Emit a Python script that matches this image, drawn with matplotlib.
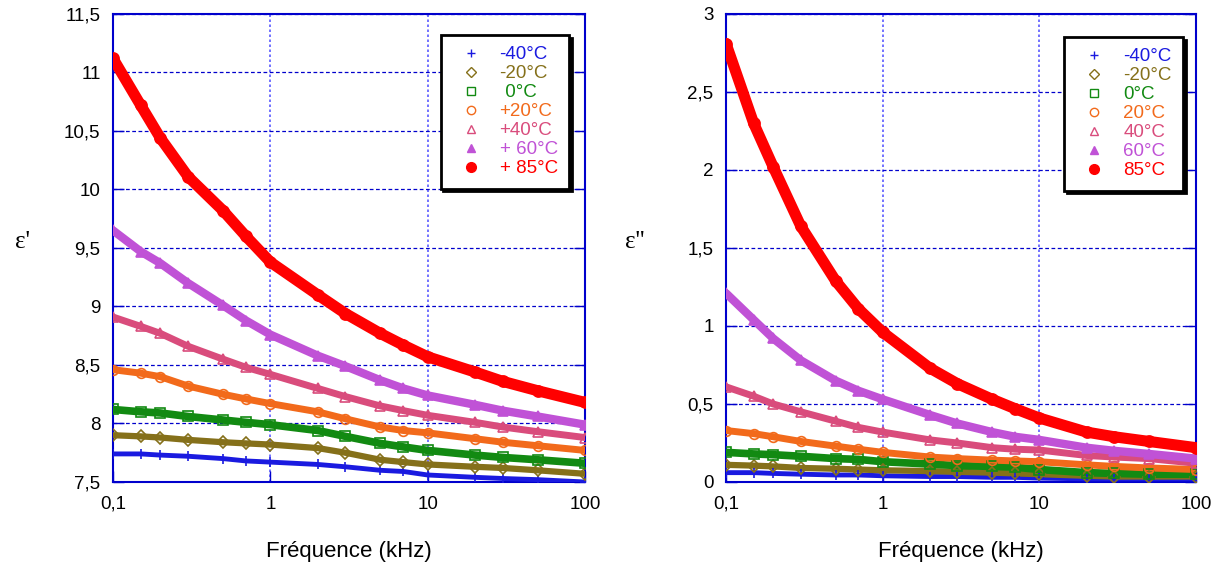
import numpy as np
import matplotlib
matplotlib.use('Agg')
import matplotlib.pyplot as plt
from matplotlib.lines import Line2D
from matplotlib.ticker import FuncFormatter, FixedLocator

plt.rcParams['font.family'] = ['Liberation Sans', 'DejaVu Sans']

# Frequencies (kHz) at which values were read
freq = [0.1, 0.15, 0.2, 0.3, 0.5, 0.7, 1, 2, 3, 5, 7, 10, 20, 30, 50, 100]

# epsilon' (left panel)
eps1_m40 = [7.74, 7.74, 7.73, 7.72, 7.70, 7.68, 7.67, 7.65, 7.63, 7.60, 7.59, 7.56, 7.54, 7.53, 7.52, 7.50]
eps1_m20 = [7.90, 7.89, 7.88, 7.86, 7.84, 7.83, 7.82, 7.79, 7.75, 7.69, 7.67, 7.65, 7.63, 7.62, 7.60, 7.57]
eps1_0 = [8.12, 8.10, 8.09, 8.06, 8.03, 8.01, 7.99, 7.94, 7.89, 7.83, 7.80, 7.77, 7.73, 7.71, 7.69, 7.66]
eps1_20 = [8.46, 8.43, 8.40, 8.32, 8.25, 8.21, 8.17, 8.10, 8.04, 7.97, 7.94, 7.92, 7.87, 7.84, 7.81, 7.77]
eps1_40 = [8.91, 8.83, 8.77, 8.66, 8.55, 8.48, 8.42, 8.30, 8.23, 8.15, 8.11, 8.07, 8.01, 7.97, 7.93, 7.88]
eps1_60 = [9.65, 9.47, 9.37, 9.20, 9.01, 8.88, 8.76, 8.58, 8.49, 8.37, 8.30, 8.24, 8.16, 8.11, 8.06, 7.99]
eps1_85 = [11.12, 10.72, 10.44, 10.11, 9.82, 9.60, 9.38, 9.10, 8.94, 8.77, 8.67, 8.57, 8.44, 8.36, 8.28, 8.18]

# epsilon'' (right panel)
eps2_m40 = [0.06, 0.06, 0.055, 0.05, 0.045, 0.045, 0.04, 0.035, 0.035, 0.03, 0.03, 0.025, 0.02, 0.02, 0.02, 0.02]
eps2_m20 = [0.11, 0.105, 0.10, 0.09, 0.085, 0.08, 0.075, 0.07, 0.065, 0.06, 0.055, 0.05, 0.04, 0.035, 0.035, 0.035]
eps2_0 = [0.19, 0.18, 0.175, 0.165, 0.15, 0.145, 0.13, 0.115, 0.105, 0.10, 0.095, 0.08, 0.06, 0.055, 0.05, 0.05]
eps2_20 = [0.33, 0.31, 0.29, 0.26, 0.23, 0.21, 0.19, 0.16, 0.15, 0.14, 0.135, 0.13, 0.11, 0.10, 0.09, 0.08]
eps2_40 = [0.61, 0.55, 0.50, 0.45, 0.39, 0.35, 0.32, 0.27, 0.25, 0.22, 0.21, 0.205, 0.17, 0.16, 0.15, 0.12]
eps2_60 = [1.21, 1.04, 0.92, 0.78, 0.65, 0.585, 0.53, 0.43, 0.375, 0.32, 0.29, 0.27, 0.22, 0.20, 0.18, 0.15]
eps2_85 = [2.81, 2.30, 2.02, 1.64, 1.29, 1.11, 0.96, 0.73, 0.63, 0.53, 0.47, 0.41, 0.32, 0.29, 0.26, 0.22]

labels_left = ['-40°C', '-20°C', ' 0°C', '+20°C', '+40°C', '+ 60°C', '+ 85°C']
labels_right = ['-40°C', '-20°C', '0°C', '20°C', '40°C', '60°C', '85°C']

colors = ['#1a1ae0', '#85701a', '#128a12', '#f26a1b', '#d94c7c', '#c052d6', '#ff0000']
markers = ['+', 'D', 's', 'o', '^', '^', 'o']
filled = [True, False, False, False, False, True, True]
msizes = [7, 6, 7, 7, 7, 7, 8]
bandw = [3.5, 4.5, 5.5, 5, 5, 6, 8]

left_data = [eps1_m40, eps1_m20, eps1_0, eps1_20, eps1_40, eps1_60, eps1_85]
right_data = [eps2_m40, eps2_m20, eps2_0, eps2_20, eps2_40, eps2_60, eps2_85]

fig = plt.figure(figsize=(12.19, 5.69), dpi=100)
ax1 = fig.add_axes([0.0927, 0.1529, 0.3872, 0.8225])
ax2 = fig.add_axes([0.5956, 0.1529, 0.3856, 0.8225])

comma = FuncFormatter(lambda v, p: ('%g' % v).replace('.', ','))


def draw_panel(ax, data, labels, ylim, yticks, bbox):
    for i, vals in enumerate(data):
        c = colors[i]
        ax.plot(freq, vals, color=c, lw=bandw[i], solid_capstyle='round',
                solid_joinstyle='round', zorder=3)
        ax.plot(freq, vals, ls='none', marker=markers[i], ms=msizes[i],
                mec=c, mfc=c if filled[i] else 'none', mew=1.2, zorder=4)
    ax.set_xscale('log')
    ax.set_xlim(0.1, 100)
    ax.set_ylim(*ylim)
    ax.xaxis.set_major_locator(FixedLocator([0.1, 1, 10, 100]))
    ax.xaxis.set_minor_locator(FixedLocator([]))
    ax.yaxis.set_major_locator(FixedLocator(yticks))
    ax.xaxis.set_major_formatter(comma)
    ax.yaxis.set_major_formatter(comma)
    ax.tick_params(axis='both', direction='in', length=8, color='#0000cc',
                   labelsize=13.5, width=1, right=True, pad=9)
    ax.tick_params(axis='x', pad=10)
    for s in ax.spines.values():
        s.set_color('#0000cc')
        s.set_linewidth(1.5)
    ax.yaxis.grid(True, color='#0000cc', ls=(0, (3, 2)), lw=0.9)
    ax.xaxis.grid(True, color='#5a5aff', ls=(0, (1.5, 1.5)), lw=1.2)
    ax.set_axisbelow(True)

    handles = [Line2D([], [], ls='none', marker=markers[i], ms=msizes[i] - 1,
                      mec=colors[i], mfc=colors[i] if filled[i] else 'white', mew=1)
               for i in range(len(labels))]
    leg = ax.legend(handles, labels, loc='upper right', bbox_to_anchor=bbox,
                    frameon=True, fancybox=False, shadow={'color': 'black', 'alpha': 1},
                    fontsize=13.5, handlelength=2.0, handletextpad=0.55,
                    labelspacing=0.1, borderpad=0.6, borderaxespad=0)
    leg.get_frame().set_edgecolor('black')
    leg.get_frame().set_linewidth(2)
    for t, c in zip(leg.get_texts(), colors):
        t.set_color(c)
    ax.set_xlabel('Fréquence (kHz)', fontsize=16, labelpad=20)


draw_panel(ax1, left_data, labels_left, (7.5, 11.5),
           [7.5, 8, 8.5, 9, 9.5, 10, 10.5, 11, 11.5], (0.966, 0.955))
draw_panel(ax2, right_data, labels_right, (0, 3),
           [0, 0.5, 1, 1.5, 2, 2.5, 3], (0.972, 0.951))

fig.text(22 / 1219, 1 - 242 / 569, "ε'", fontsize=18, ha='center', va='center',
         family=['Liberation Serif', 'DejaVu Serif'])
fig.text(635 / 1219, 1 - 242 / 569, "ε''", fontsize=18, ha='center', va='center',
         family=['Liberation Serif', 'DejaVu Serif'])

fig.savefig('out.png', dpi=100)
